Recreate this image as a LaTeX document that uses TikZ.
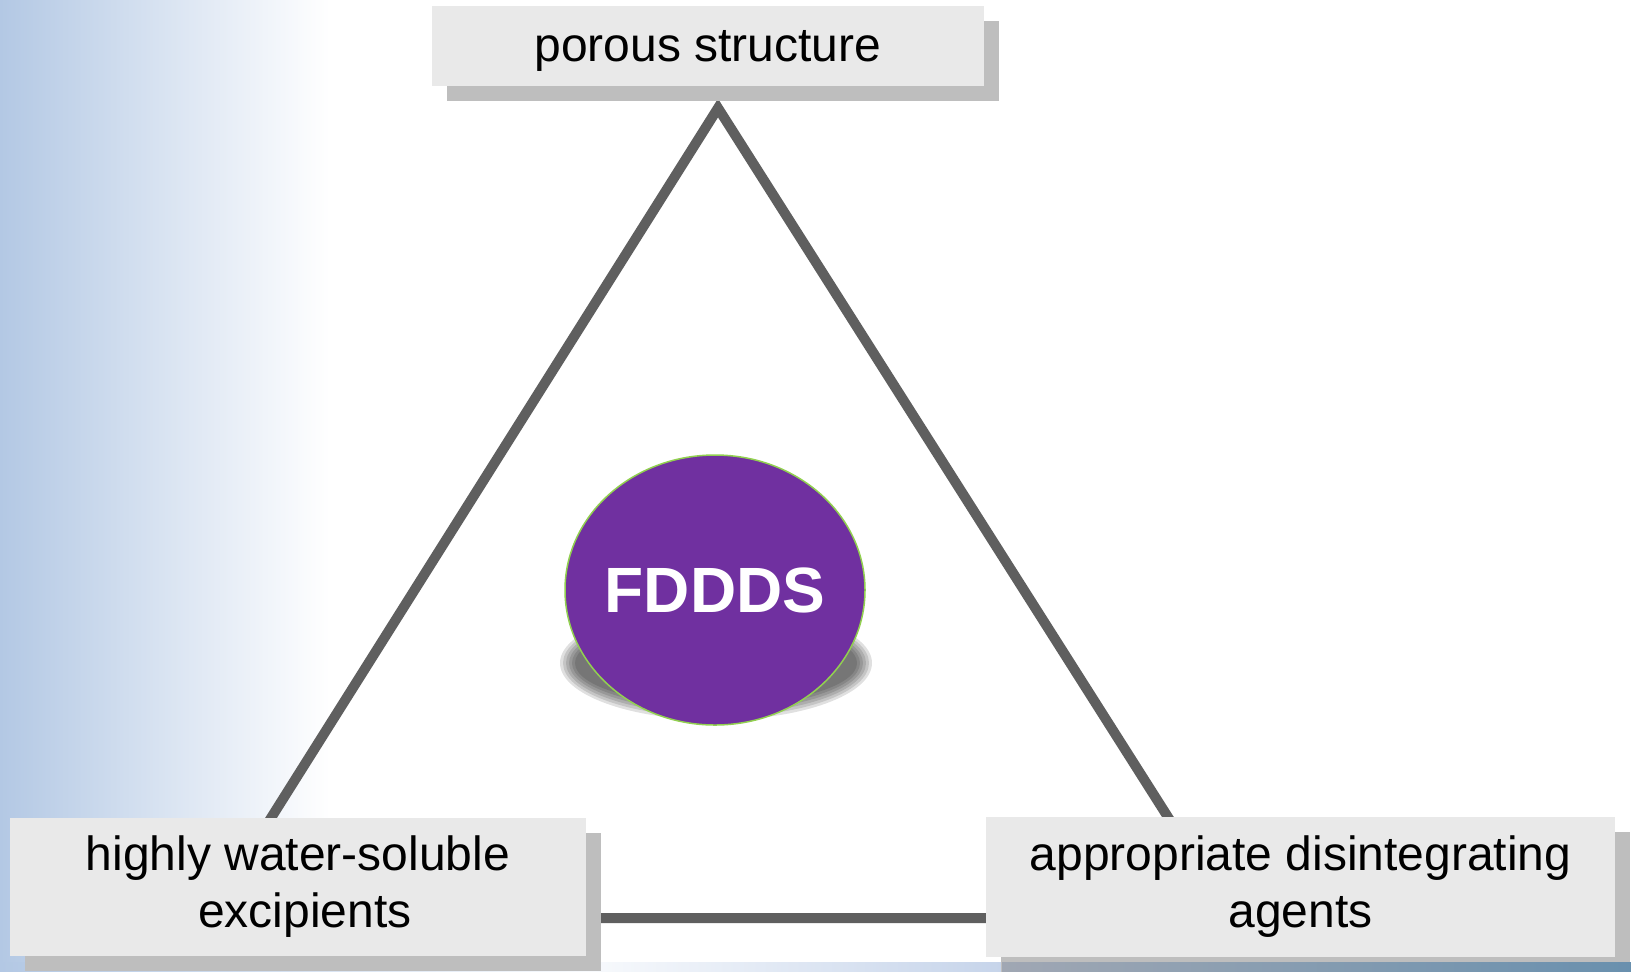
\documentclass[tikz,border=0pt]{standalone}
\usepackage{fontspec}
\setmainfont{Liberation Sans}
\usetikzlibrary{shadows,shapes.geometric}

\definecolor{bgblue}{HTML}{B3C8E4}
\definecolor{boxgray}{HTML}{E9E9E9}
\definecolor{shadowgray}{HTML}{BEBEBE}
\definecolor{edgegray}{HTML}{5F5F5F}
\definecolor{fdpurple}{HTML}{7030A0}
\definecolor{fdgreen}{HTML}{92D050}
\definecolor{stripblue}{HTML}{C6D4EA}
\definecolor{stripgray}{HTML}{A0A7B3}
\definecolor{stripdark}{HTML}{6990AE}

\tikzset{
  labelbox/.style={fill=boxgray, align=center, inner sep=0pt,
    font=\fontsize{24}{28.5}\selectfont,
    drop shadow={shadow xshift=7.5pt, shadow yshift=-7.5pt, fill=shadowgray, opacity=1}},
  triside/.style={draw=edgegray, line width=5pt, line join=miter}
}

\begin{document}
\begin{tikzpicture}[x=0.5pt, y=-0.5pt]
    \useasboundingbox (0,0) rectangle (1631,971);
    \shade[left color=bgblue, right color=white] (0,0) rectangle (330,971);
    \shade[left color=bgblue, right color=white!90!bgblue] (0,962) rectangle (590,971);
    \shade[left color=white!90!bgblue, right color=stripblue] (590,962) rectangle (1002,971);

    \coordinate (apex) at (718,108);
    \coordinate (baseL) at (208,918);
    \coordinate (baseR) at (1232,918);
    \draw[triside] (apex) -- (baseL) -- (baseR) -- cycle;

    \node[labelbox, minimum width=276pt, minimum height=40pt, text depth=0pt] (porous) at (708,46) {porous structure};
    \node[labelbox, minimum width=288pt, minimum height=69pt] (soluble) at (298,887) {highly water-soluble\\\hspace*{7pt}excipients};
    \node[labelbox, minimum width=314.5pt, minimum height=70pt] (agents) at (1300.5,887) {appropriate disintegrating\\agents};
    \shade[left color=stripgray, right color=stripdark] (1002,962) rectangle (1631,971);

    \foreach \k in {0,...,5}
        \fill[black, opacity=0.12] (716,663) ellipse ({156-3*\k} and {57-3*\k});
    \node[ellipse, fill=fdpurple, draw=fdgreen, line width=0.75pt, minimum width=150pt, minimum height=135pt,
        inner sep=0pt, inner xsep=-20pt, text=white, font=\fontsize{32}{38}\selectfont\bfseries] (fddds) at (715,590) {FDDDS};
\end{tikzpicture}
\end{document}
